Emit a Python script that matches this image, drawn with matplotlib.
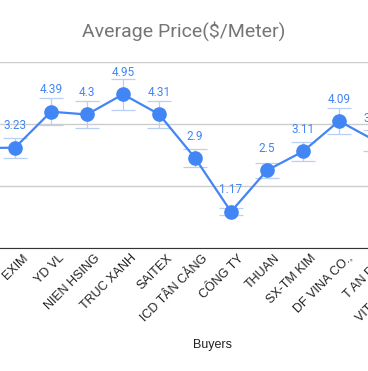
import matplotlib
matplotlib.use("Agg")
import matplotlib.pyplot as plt
import matplotlib.transforms as mtransforms

# data (only part of the chart is visible)
buyers = ["VINATEX", "EXIM", "YD VL", "NIEN HSING", "TRUC XANH", "SAITEX",
          "ICD TÂN CẢNG", "CÔNG TY", "THUAN", "SX-TM KIM", "DF VINA CO.,",
          "T AN PHU", "VITAS CO., LTD"]
price = [3.22, 3.23, 4.39, 4.3, 4.95, 4.31, 2.9, 1.17, 2.5, 3.11, 4.09, 3.46, 3.8]
err_pct = 10          # percentage error bars, as set in the sheet
yticks = [0, 2, 4, 6]

blue = "#4285F4"
err_col = "#b9cff8"

fig = plt.figure(figsize=(3.68, 3.71), dpi=100)
# axes run past the picture edges, like the cropped reference
ax = fig.add_axes([-30/368, 123/371, 486/368, 186.3/371])

x = list(range(len(buyers)))
errs = [v*err_pct/100 for v in price]

ax.errorbar(x, price, yerr=errs, fmt="none", ecolor=err_col, elinewidth=0.9,
            capsize=8.5, capthick=0.9, zorder=2)
ax.plot(x, price, color=blue, lw=1.6, marker="o", ms=9.5, zorder=3)

for xi, v in zip(x, price):
    ax.annotate(f"{v:g}", (xi, v), xytext=(0, 15.8), textcoords="offset points",
                ha="center", va="center", color=blue, fontsize=8.5,
                family="Roboto", zorder=1)

ax.set_xlim(-0.25, 13.25)
ax.set_ylim(0, 6)
ax.set_yticks(yticks)
ax.yaxis.grid(True, color="#cccccc", lw=1)
ax.set_axisbelow(True)
for s in ["top", "left", "right"]:
    ax.spines[s].set_visible(False)
ax.spines["bottom"].set_color("#333333")
ax.tick_params(axis="y", length=0, labelleft=False)
ax.tick_params(axis="x", length=0, pad=5)
ax.set_xticks(x)
ax.set_xticklabels(buyers, rotation=45, ha="right", rotation_mode="anchor",
                   fontsize=9, family="Liberation Sans", color="#222222")
shift = mtransforms.ScaledTranslation(5/72, 2/72, fig.dpi_scale_trans)
for lab in ax.get_xticklabels():
    lab.set_transform(lab.get_transform() + shift)

fig.text(213/368, 1 - 345/371, "Buyers", ha="center", va="center",
         fontsize=9, family="Liberation Sans", color="#222222")
fig.text(0.5, 1 - 31/371, "Average Price($/Meter)", ha="center", va="center",
         fontsize=14, family="Roboto", color="#757575")

fig.savefig("out.png", dpi=100)
